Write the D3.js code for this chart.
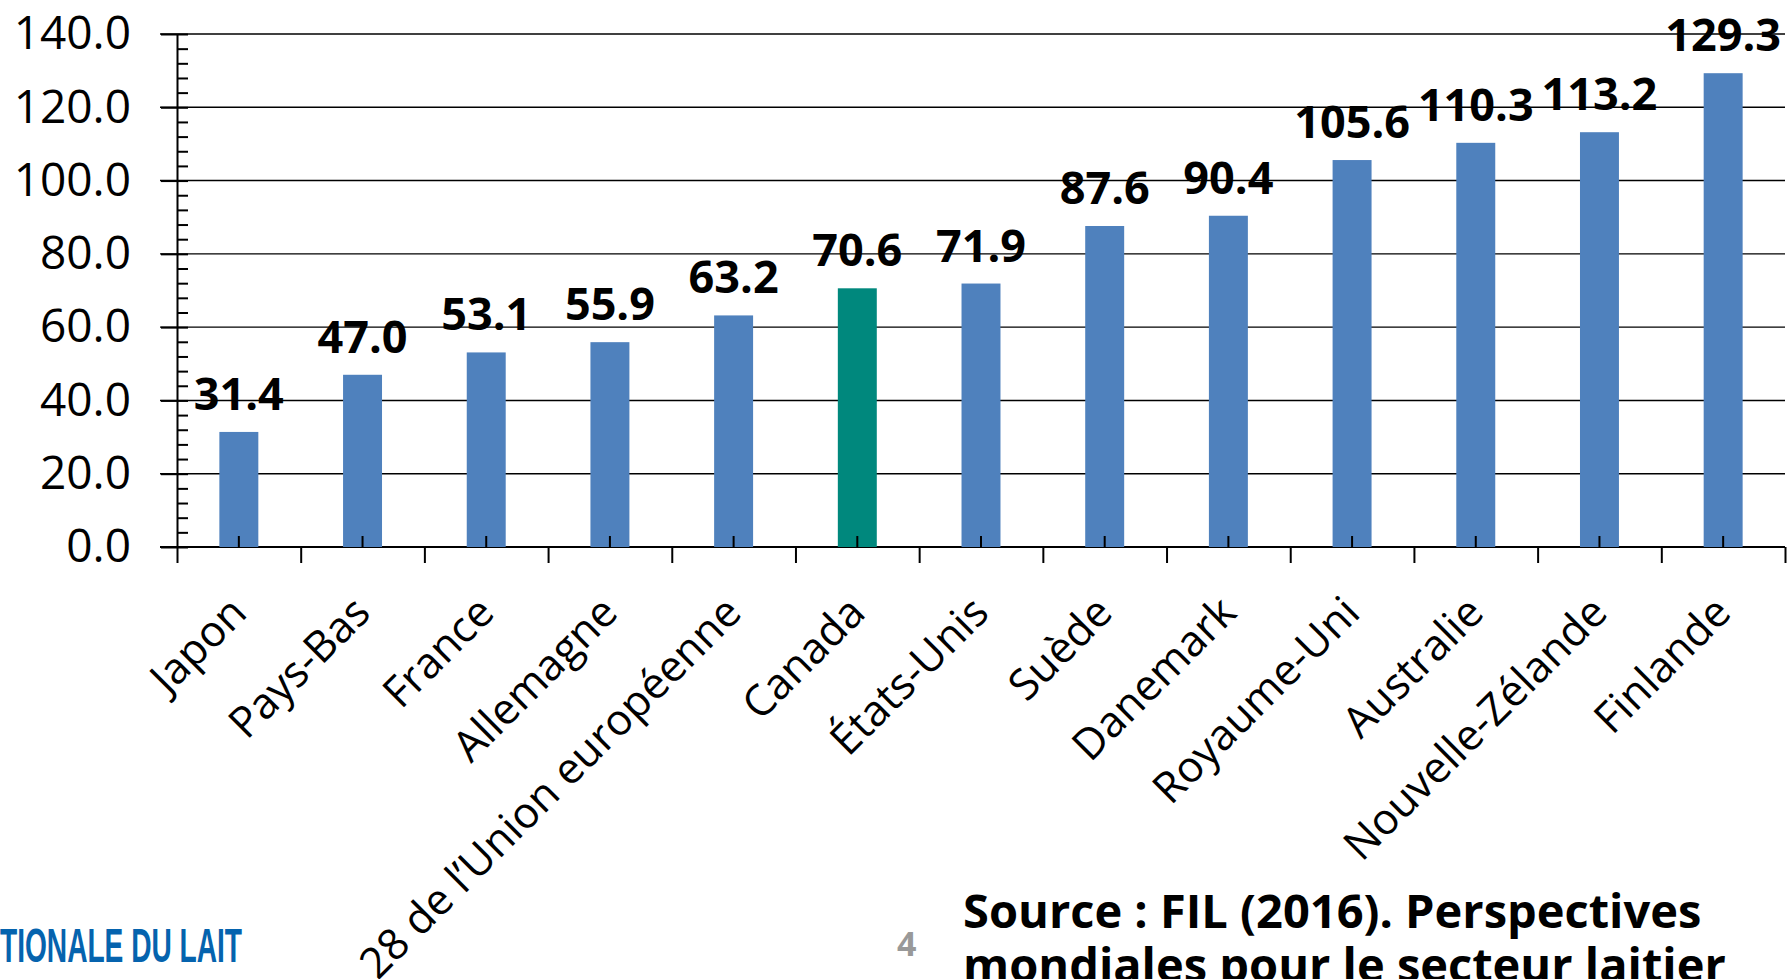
<!DOCTYPE html>
<html lang="fr">
<head>
<meta charset="UTF-8">
<title>Production laitière par habitant</title>
<script src="https://cdn.jsdelivr.net/npm/d3@7"></script>
<style>
  body { margin: 0; background: #fff; }
  svg { display: block; }
</style>
</head>
<body>
<svg id="chart" width="1791" height="979"></svg>
<script>
// données
const pays = ['Japon', 'Pays-Bas', 'France', 'Allemagne', '28 de l\u2019Union européenne', 'Canada',
  'États-Unis', 'Suède', 'Danemark', 'Royaume-Uni', 'Australie', 'Nouvelle-Zélande', 'Finlande'];
const valeurs = [31.4, 47.0, 53.1, 55.9, 63.2, 70.6, 71.9, 87.6, 90.4, 105.6, 110.3, 113.2, 129.3];
const graduations = [0, 20, 40, 60, 80, 100, 120, 140];
const graduationsMineures = d3.range(0, 141, 4);
const paysMisEnAvant = 'Canada';

const donnees = pays.map((p, i) => ({ pays: p, valeur: valeurs[i] }));

const svg = d3.select('#chart');
const gauche = 177, droite = 1785, bas = 547, haut = 34;

const x = d3.scaleBand().domain(pays).range([gauche, droite])
  .paddingInner(0.685).paddingOuter(0.3425);
const y = d3.scaleLinear().domain([0, 140]).range([bas, haut]);
// bornes des catégories pour les petites marques sous l'axe
const bornes = d3.scaleLinear().domain([0, pays.length]).range([gauche, droite]);

// lignes de quadrillage
svg.append('g').selectAll('line').data(graduations).join('line')
  .attr('x1', 160).attr('x2', droite)
  .attr('y1', d => y(d)).attr('y2', d => y(d))
  .attr('stroke', '#000').attr('stroke-width', d => d === 0 ? 2 : 1.4);

// barres
svg.append('g').selectAll('rect').data(donnees).join('rect')
  .attr('x', d => x(d.pays))
  .attr('width', x.bandwidth())
  .attr('y', d => y(d.valeur))
  .attr('height', d => y(0) - y(d.valeur))
  .attr('fill', d => d.pays === paysMisEnAvant ? '#00887D' : '#4F81BD');

// axe vertical
const axeY = svg.append('g').attr('transform', `translate(${gauche},0)`)
  .call(d3.axisLeft(y).tickValues(graduations).tickSize(16).tickSizeOuter(0)
    .tickPadding(30).tickFormat(d3.format('.1f')));
axeY.selectAll('text').attr('font-family', '"Open Sans", sans-serif')
  .attr('font-size', 46).attr('fill', '#000');

svg.append('g').attr('transform', `translate(${gauche},0)`)
  .call(d3.axisRight(y).tickValues(graduationsMineures).tickSize(11).tickSizeOuter(0).tickFormat(''))
  .call(g => g.select('.domain').remove());

// marques de catégories
svg.append('g').attr('transform', `translate(0,${bas})`)
  .call(d3.axisBottom(bornes).tickValues(d3.range(pays.length + 1)).tickSize(16).tickFormat(''))
  .call(g => g.select('.domain').remove());
svg.append('g').attr('transform', `translate(0,${bas})`)
  .call(d3.axisTop(x).tickSize(11).tickFormat(''))
  .call(g => g.select('.domain').remove());

svg.selectAll('.domain, .tick line').attr('stroke', '#000').attr('stroke-width', 2);

// étiquettes des pays
svg.append('g').selectAll('text').data(pays).join('text')
  .attr('transform', d => `translate(${x(d) + x.bandwidth() / 2 + 10},615) rotate(-45)`)
  .attr('text-anchor', 'end')
  .attr('font-family', '"Open Sans", sans-serif')
  .attr('font-size', 43)
  .text(d => d);

// valeurs au-dessus des barres
svg.append('g').selectAll('text').data(donnees).join('text')
  .attr('x', d => x(d.pays) + x.bandwidth() / 2)
  .attr('y', d => y(d.valeur) - 22)
  .attr('text-anchor', 'middle')
  .attr('font-family', '"Open Sans", sans-serif')
  .attr('font-weight', 'bold')
  .attr('font-size', 45)
  .text(d => d3.format('.1f')(d.valeur));

// bas de la diapositive
svg.append('text').attr('x', 0).attr('y', 962)
  .attr('font-family', '"Liberation Sans Narrow", "Liberation Sans", sans-serif')
  .attr('font-weight', 'bold').attr('font-size', 48).attr('fill', '#0563AE')
  .attr('textLength', 242).attr('lengthAdjust', 'spacingAndGlyphs')
  .text('TIONALE DU LAIT');

svg.append('text').attr('x', 897).attr('y', 956)
  .attr('font-family', '"Open Sans", sans-serif').attr('font-weight', 'bold')
  .attr('font-size', 34).attr('fill', '#999')
  .text('4');

const source = svg.append('text').attr('font-family', '"Open Sans", sans-serif')
  .attr('font-weight', 'bold').attr('font-size', 47).attr('fill', '#000');
source.append('tspan').attr('x', 963).attr('y', 928).text('Source : FIL (2016). Perspectives');
source.append('tspan').attr('x', 963).attr('y', 982).text('mondiales pour le secteur laitier');
</script>
</body>
</html>
